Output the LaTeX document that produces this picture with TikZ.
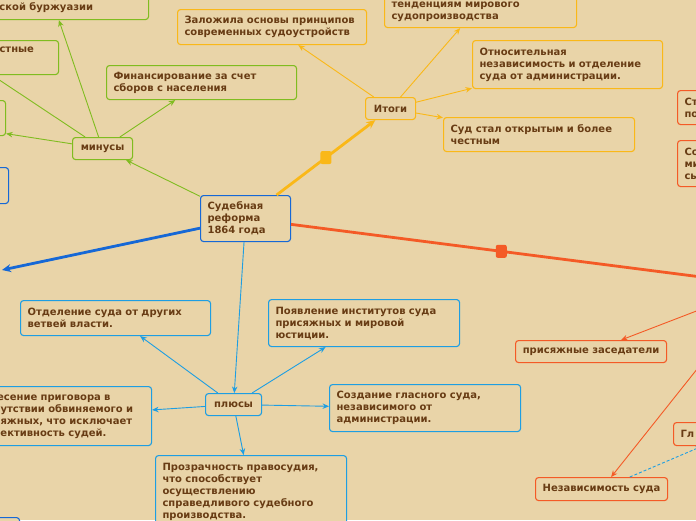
\documentclass[tikz,border=0pt]{standalone}
\usepackage{fontspec}
\setmainfont{DejaVu Sans}
\usetikzlibrary{arrows.meta}
\definecolor{bg}{RGB}{233,212,168}
\definecolor{ink}{RGB}{104,60,20}
\definecolor{grn}{RGB}{128,188,32}
\definecolor{yel}{RGB}{250,184,24}
\definecolor{org}{RGB}{244,90,38}
\definecolor{sky}{RGB}{30,158,226}
\definecolor{navy}{RGB}{22,104,214}
\tikzset{idea/.style={draw, line width=1.1pt, rounded corners=3pt, fill=bg, text=ink, anchor=north west,
    align=left, inner xsep=7pt, inner ysep=3pt, font=\bfseries\fontsize{10}{12}\selectfont},
  gbox/.style={idea, draw=grn},
  ybox/.style={idea, draw=yel},
  rbox/.style={idea, draw=org},
  bbox/.style={idea, draw=sky},
  link/.style={line width=0.9pt, -{Stealth[length=6.5pt,width=5.5pt]}},
  trunk/.style={line width=2.8pt, -{Stealth[length=9pt,width=8pt]}},
  knob/.style={rounded corners=2pt, minimum width=11pt, minimum height=13pt, inner sep=0pt}}

\begin{document}
\begin{tikzpicture}[x=1pt, y=-1pt]
  \useasboundingbox (0,0) rectangle (696,520);
  \clip (0,0) rectangle (696,520);
  \fill[bg] (0,0) rectangle (696,520);
  % centre
  \node[idea, draw=navy, minimum width=90pt, minimum height=46pt, text width=76pt] (cen) at (200,195) {Судебная\\реформа\\1864 года};
  % minus branch
  \node[gbox, minimum width=60pt, minimum height=22pt] (minus) at (72,137) {минусы};
  \node[gbox, minimum width=196pt, minimum height=48pt, text width=182pt] (g1) at (-48,-29) {\strut\\в интересах дворян и\\российской буржуазии};
  \node[gbox, minimum width=66pt, minimum height=34pt, text width=52pt] (g2) at (-8,40) {стные\\\strut};
  \node[gbox, minimum width=202pt, minimum height=35pt] (g3) at (-197,100) {};
  \node[gbox, minimum width=190pt, minimum height=34pt, text width=176pt] (g4) at (106,65) {Финансирование за счет\\сборов с населения};
  % results branch
  \node[ybox, minimum width=50pt, minimum height=22pt] (itogi) at (365,97) {Итоги};
  \node[ybox, minimum width=189pt, minimum height=35pt, text width=175pt] (y1) at (177,9) {Заложила основы принципов\\современных судоустройств};
  \node[ybox, minimum width=192pt, minimum height=46pt, text width=178pt] (y2) at (384,-19) {\strut\\тенденциям мирового\\судопроизводства};
  \node[ybox, minimum width=190pt, minimum height=48pt, text width=176pt] (y3) at (472,40) {Относительная\\независимость и отделение\\суда от администрации.};
  \node[ybox, minimum width=191pt, minimum height=34pt, text width=177pt] (y4) at (443,117) {Суд стал открытым и более\\честным};
  % right branch
  \node[rbox, anchor=center, minimum width=104pt, minimum height=30pt] (rhub) at (764,285) {};
  \node[rbox, minimum width=80pt, minimum height=34pt, text width=66pt] (r1) at (677,90) {Ст\\по};
  \node[rbox, minimum width=80pt, minimum height=46pt, text width=66pt] (r2) at (677,140) {Со\\ми\\сь};
  \node[rbox, minimum width=151pt, minimum height=22pt] (r3) at (515,340) {присяжные заседатели};
  \node[rbox, minimum width=132pt, minimum height=23pt] (r4) at (535,477) {Независимость суда};
  \node[rbox, minimum width=114pt, minimum height=23pt, text width=100pt] (r5) at (673,422) {Гл};
  % left branch
  \node[idea, draw=navy, minimum width=60pt, minimum height=36pt] (nv1) at (-52,167) {};
  \node[idea, draw=navy, minimum width=60pt, minimum height=40pt] (nv2) at (-41,517) {};
  \coordinate (nvhub) at (2,270);
  % plus branch
  \node[bbox, minimum width=56pt, minimum height=22pt] (plus) at (205,393) {плюсы};
  \node[bbox, minimum width=190pt, minimum height=35pt, text width=176pt] (b1) at (20,300) {Отделение суда от других\\ветвей власти.};
  \node[bbox, minimum width=191pt, minimum height=47pt, text width=177pt] (b2) at (268,299) {Появление институтов суда\\присяжных и мировой\\юстиции.};
  \node[bbox, minimum width=185pt, minimum height=59pt, text width=171pt] (b3) at (-34,386) {Вынесение приговора в\\присутствии обвиняемого и\\присяжных, что исключает\\субъективность судей.};
  \node[bbox, minimum width=191pt, minimum height=47pt, text width=177pt] (b4) at (329,384) {Создание гласного суда,\\независимого от\\администрации.};
  \node[bbox, minimum width=191pt, minimum height=73pt, text width=177pt] (b5) at (155,455) {Прозрачность правосудия,\\что способствует\\осуществлению\\справедливого судебного\\производства.};
  % trunks
  \draw[trunk, yel] (cen) -- (itogi) node[knob, fill=yel, midway] (ymark) {};
  \draw[trunk, org] (cen) -- (rhub) node[knob, fill=org, midway] (rmark) {};
  \draw[trunk, navy] (cen) -- (nvhub);
  \draw[link, grn] (cen) -- (minus);
  \draw[link, sky] (cen) -- (plus);
  % leaves
  \draw[link, grn] (minus) -- (g1);
  \draw[link, grn] (minus) -- (g2.south west);
  \draw[link, grn] (minus) -- (g3);
  \draw[link, grn] (minus) -- (g4);
  \foreach \n in {y1,y2,y3,y4}{\draw[link, yel] (itogi) -- (\n);}
  \draw[link, org] (rhub) -- (r3);
  \draw[link, org] (rhub) -- (r4);
  \draw[link, sky, dash pattern=on 3pt off 2pt] (r4) -- (r5);
  \foreach \n in {b1,b2,b3,b4,b5}{\draw[link, sky] (plus) -- (\n);}
\end{tikzpicture}
\end{document}
